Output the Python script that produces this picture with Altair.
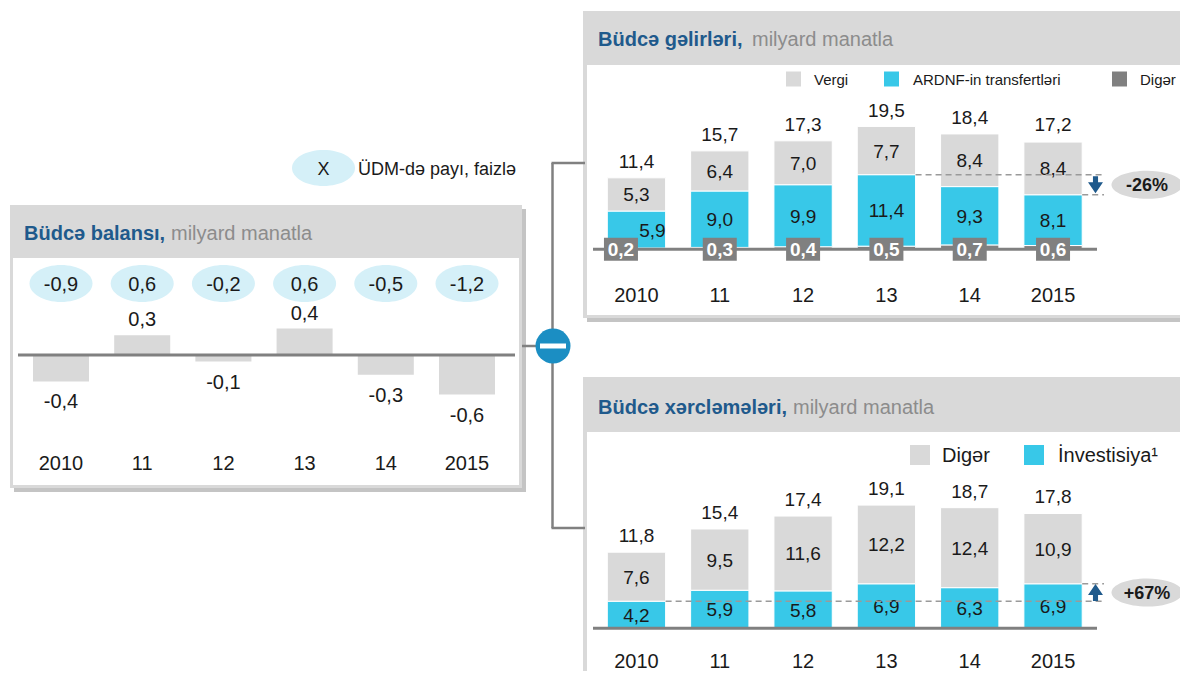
import altair as alt
import pandas as pd

# ---------------- data ----------------
YEARS = ["2010", "11", "12", "13", "14", "2015"]

BALANCE = [-0.4, 0.3, -0.1, 0.4, -0.3, -0.6]
BALANCE_GDP = [-0.9, 0.6, -0.2, 0.6, -0.5, -1.2]

REV_TAX = [5.3, 6.4, 7.0, 7.7, 8.4, 8.4]
REV_SOFAZ = [5.9, 9.0, 9.9, 11.4, 9.3, 8.1]
REV_OTHER = [0.2, 0.3, 0.4, 0.5, 0.7, 0.6]
REV_TOTAL = [11.4, 15.7, 17.3, 19.5, 18.4, 17.2]

EXP_OTHER = [7.6, 9.5, 11.6, 12.2, 12.4, 10.9]
EXP_INVEST = [4.2, 5.9, 5.8, 6.9, 6.3, 6.9]
EXP_TOTAL = [11.8, 15.4, 17.4, 19.1, 18.7, 17.8]

REV_CHANGE = "-26%"
EXP_CHANGE = "+67%"

# ---------------- style ----------------
FONT = "Liberation Sans"
TXT = "#1a1a1a"
GRAY_LIGHT = "#d9d9d9"
CYAN = "#38c8e8"
GRAY_DARK = "#808080"
TITLE_BLUE = "#1f5a8c"
TITLE_GRAY = "#8c8c8c"
ELL_BLUE = "#d5f0f8"
CIRCLE_BLUE = "#1b8ec3"
ARROW_BLUE = "#1f5a8c"
LINE = "#808080"
SHADOW = "#c4c4c4"
DASH = "#9a9a9a"

O = 8
RIGHT = 1180


def px(v):
    return v - O


ONE = alt.Data(values=[{"one": 1}])
LBL = "(datum.v < 0 ? '-' : '') + replace(format(abs(datum.v), '.1f'), '.', ',')"


def ellipse(k):
    c = 0.5523
    return (f"M-1,0C-1,{-c*k:.3f},{-c:.3f},{-k:.3f},0,{-k:.3f}"
            f"C{c:.3f},{-k:.3f},1,{-c*k:.3f},1,0"
            f"C1,{c*k:.3f},{c:.3f},{k:.3f},0,{k:.3f}"
            f"C{-c:.3f},{k:.3f},-1,{c*k:.3f},-1,0Z")


ARROW_DOWN = "M-0.3,-1L0.3,-1L0.3,-0.3L0.88,-0.3L0,1L-0.88,-0.3L-0.3,-0.3Z"
ARROW_UP = "M-0.3,1L0.3,1L0.3,0.3L0.88,0.3L0,-1L-0.88,0.3L-0.3,0.3Z"
BOX = "M-1,-0.676L1,-0.676L1,0.676L-1,0.676Z"


def rect(x0, x1, y0, y1, color):
    return alt.Chart(ONE).mark_rect(color=color, strokeWidth=0).encode(
        x=alt.value(px(x0)), x2=alt.value(px(x1)),
        y=alt.value(px(y0)), y2=alt.value(px(y1)))


def hline(x0, x1, y, color=LINE, w=2.5):
    return alt.Chart(ONE).mark_rule(color=color, strokeWidth=w).encode(
        x=alt.value(px(x0)), x2=alt.value(px(x1)), y=alt.value(px(y)))


def vline(x, y0, y1, color=LINE, w=2.5):
    return alt.Chart(ONE).mark_rule(color=color, strokeWidth=w).encode(
        x=alt.value(px(x)), y=alt.value(px(y0)), y2=alt.value(px(y1)))


def label(text, x, y, size, color=TXT, weight="normal", align="left"):
    return alt.Chart(ONE).mark_text(
        text=text, font=FONT, fontSize=size, fontWeight=weight, color=color,
        align=align, baseline="alphabetic").encode(
        x=alt.value(px(x)), y=alt.value(px(y)))


def swatch(x, y, s, color):
    return alt.Chart(ONE).mark_point(shape="square", size=s * s, filled=True,
                                     color=color, opacity=1, strokeWidth=0).encode(
        x=alt.value(px(x)), y=alt.value(px(y)))


# ---------------- decorations ----------------
deco = [
    # left panel
    rect(14, 526, 209, 492, SHADOW),
    rect(10, 522, 205, 488, GRAY_LIGHT),
    rect(13, 519, 258, 485, "white"),
    # top-right panel
    rect(587, RIGHT, 15, 322, SHADOW),
    rect(583, RIGHT, 11, 318, GRAY_LIGHT),
    rect(587, RIGHT, 65, 315, "white"),
    # bottom-right panel
    rect(587, RIGHT, 381, 679, SHADOW),
    rect(583, RIGHT, 377, 679, GRAY_LIGHT),
    rect(587, RIGHT, 432, 679, "white"),
    # titles
    label("Büdcə balansı,", 24, 239.5, 20, TITLE_BLUE, "bold"),
    label("milyard manatla", 171, 239.5, 20, TITLE_GRAY),
    label("Büdcə gəlirləri,", 598, 45.5, 20, TITLE_BLUE, "bold"),
    label("milyard manatla", 752, 45.5, 20, TITLE_GRAY),
    label("Büdcə xərcləmələri,", 598, 413.5, 20, TITLE_BLUE, "bold"),
    label("milyard manatla", 793, 413.5, 20, TITLE_GRAY),
    # GDP-share key
    alt.Chart(ONE).mark_point(shape=ellipse(36 / 63), size=63 * 63, filled=True,
                              color=ELL_BLUE, opacity=1, strokeWidth=0).encode(
        x=alt.value(px(323.5)), y=alt.value(px(168))),
    label("X", 323.5, 174.5, 18, align="center"),
    label("ÜDM-də payı, faizlə", 358, 174.5, 18),
    # revenue legend
    swatch(793.5, 79, 15, GRAY_LIGHT),
    label("Vergi", 814, 84.5, 15),
    swatch(891.5, 79, 15, CYAN),
    label("ARDNF-in transfertləri", 913, 84.5, 15),
    swatch(1119.5, 79, 15, GRAY_DARK),
    label("Digər", 1140, 84.5, 15),
    # expenditure legend
    swatch(920, 455, 20, GRAY_LIGHT),
    label("Digər", 942, 462, 20),
    swatch(1034, 455, 20, CYAN),
    label("İnvestisiya¹", 1058, 462, 20),
    # connectors
    vline(552.5, 163, 528),
    hline(551.5, 585, 163),
    hline(551.5, 585, 528),
    hline(522, 553, 346),
    alt.Chart(ONE).mark_point(shape="circle", size=35 * 35, filled=True,
                              color=CIRCLE_BLUE, opacity=1, strokeWidth=0).encode(
        x=alt.value(px(553)), y=alt.value(px(346))),
    rect(540, 566, 343.5, 348.5, "white"),
]

# ---------------- left panel: balance ----------------
xL = alt.Scale(domain=YEARS, range=[px(20.4), px(507.6)], paddingInner=0.31, paddingOuter=0.155)
yL = alt.Scale(domain=[-1, 1], range=[px(355 + 66), px(355 - 66)])
XL = alt.X("year:N", scale=xL, axis=None, sort=None)
bal = pd.DataFrame({"year": YEARS, "v": BALANCE, "g": BALANCE_GDP})
bL = alt.Chart(bal)
txt = dict(font=FONT, color=TXT, baseline="alphabetic")

left = alt.layer(
    bL.mark_bar(color=GRAY_LIGHT).encode(x=XL, y=alt.Y("v:Q", scale=yL, axis=None)),
    alt.Chart(ONE).mark_rule(color=LINE, strokeWidth=3).encode(
        x=alt.value(px(18)), x2=alt.value(px(515)), y=alt.YDatum(0, axis=None)),
    bL.transform_filter("datum.v >= 0").transform_calculate(lbl=LBL).mark_text(
        fontSize=20, dy=-9, **txt).encode(x=XL, y=alt.Y("v:Q", axis=None), text="lbl:N"),
    bL.transform_filter("datum.v < 0").transform_calculate(lbl=LBL).mark_text(
        fontSize=20, dy=27, **txt).encode(x=XL, y=alt.Y("v:Q", axis=None), text="lbl:N"),
    bL.mark_point(shape=ellipse(37 / 63), size=63 * 63, filled=True, color=ELL_BLUE,
                  opacity=1, strokeWidth=0).encode(x=XL, y=alt.value(px(283.5))),
    bL.transform_calculate(lbl=LBL.replace("datum.v", "datum.g")).mark_text(
        fontSize=20, **txt).encode(x=XL, y=alt.value(px(291)), text="lbl:N"),
    bL.mark_text(fontSize=20, **txt).encode(x=XL, y=alt.value(px(470)), text="year:N"),
)


# ---------------- stacked panels ----------------
def stacked(rows, comps, colors, labelled, totals, base_y, ppu, years_y, dashes, arrow,
            change, special_2010):
    xs = alt.Scale(domain=YEARS, range=[px(594.8), px(1094.7)],
                   paddingInner=0.30, paddingOuter=0.15)
    ys = alt.Scale(domain=[0, 20], range=[px(base_y), px(base_y - 20 * ppu)])
    X = alt.X("year:N", scale=xs, axis=None, sort=None)
    df = pd.DataFrame(rows)
    S = alt.Chart(df).transform_stack(
        stack="v", groupby=["year"], as_=["v0", "v1"],
        sort=[alt.SortField("k", order="ascending")]).transform_calculate(
        mid="(datum.v0 + datum.v1) / 2", lbl=LBL)
    tot = alt.Chart(pd.DataFrame({"year": YEARS, "v": totals})).transform_calculate(lbl=LBL)
    dash_df = alt.Chart(pd.DataFrame(dashes))
    arr = alt.Chart(pd.DataFrame([arrow]))
    layers = [
        S.mark_bar(stroke="white", strokeWidth=1).encode(
            x=X, y=alt.Y("v1:Q", scale=ys, axis=None), y2="v0:Q",
            color=alt.Color("comp:N", scale=alt.Scale(domain=comps, range=colors), legend=None)),
        alt.Chart(ONE).mark_rule(color=LINE, strokeWidth=3).encode(
            x=alt.value(px(593)), x2=alt.value(px(1097)), y=alt.YDatum(0, axis=None)),
        tot.mark_text(fontSize=19, dy=-10, **txt).encode(
            x=X, y=alt.Y("v:Q", axis=None), text="lbl:N"),
    ]
    seg_filter = "indexof(%s, datum.comp) >= 0" % str(labelled)
    if special_2010:
        seg_filter += " && !(datum.comp == 'sofaz' && datum.year == '2010')"
    layers.append(S.transform_filter(seg_filter).mark_text(fontSize=19, dy=7, **txt).encode(
        x=X, y=alt.Y("mid:Q", axis=None), text="lbl:N"))
    if special_2010:
        layers += [
            S.transform_filter("datum.comp == 'sofaz' && datum.year == '2010'").mark_text(
                fontSize=19, dy=7, dx=16, **txt).encode(
                x=X, y=alt.Y("mid:Q", axis=None), text="lbl:N"),
            S.transform_filter("datum.comp == 'other' && datum.year != '2010'").mark_point(
                shape=BOX, size=34 * 34, filled=True, color=GRAY_DARK, opacity=1,
                strokeWidth=0).encode(x=X, y=alt.YDatum(0, axis=None)),
            S.transform_filter("datum.comp == 'other' && datum.year == '2010'").mark_point(
                shape=BOX, size=34 * 34, filled=True, color=GRAY_DARK, opacity=1,
                strokeWidth=0, xOffset=-15.5).encode(x=X, y=alt.YDatum(0, axis=None)),
            S.transform_filter("datum.comp == 'other' && datum.year != '2010'").mark_text(
                fontSize=19, fontWeight="bold", dy=7, font=FONT, color="white",
                baseline="alphabetic").encode(x=X, y=alt.YDatum(0, axis=None), text="lbl:N"),
            S.transform_filter("datum.comp == 'other' && datum.year == '2010'").mark_text(
                fontSize=19, fontWeight="bold", dy=7, dx=-15.5, font=FONT, color="white",
                baseline="alphabetic").encode(x=X, y=alt.YDatum(0, axis=None), text="lbl:N"),
        ]
    layers += [
        dash_df.mark_rule(color=DASH, strokeWidth=1.5, strokeDash=[6, 4]).encode(
            x=alt.X("year:N", scale=xs, axis=None, sort=None, bandPosition=1),
            x2=alt.value(px(1104)), y=alt.Y("lvl:Q", axis=None)),
        arr.mark_point(shape=ARROW_DOWN if arrow["down"] else ARROW_UP, size=17 * 17,
                       filled=True, color=ARROW_BLUE, opacity=1, strokeWidth=0).encode(
            x=alt.value(px(1095.5)), y=alt.Y("mid:Q", axis=None)),
        arr.mark_point(shape=ellipse(28 / 71), size=71 * 71, filled=True, color=GRAY_LIGHT,
                       opacity=1, strokeWidth=0).encode(
            x=alt.value(px(1147)), y=alt.Y("mid:Q", axis=None)),
        arr.mark_text(text=change, fontSize=18, fontWeight="bold", font=FONT, color=TXT,
                      baseline="alphabetic", dy=6.5).encode(
            x=alt.value(px(1147)), y=alt.Y("mid:Q", axis=None)),
        alt.Chart(pd.DataFrame({"year": YEARS})).mark_text(fontSize=20, **txt).encode(
            x=X, y=alt.value(px(years_y)), text="year:N"),
    ]
    return alt.layer(*layers)


rev_rows = []
for i, yr in enumerate(YEARS):
    rev_rows += [{"year": yr, "comp": "other", "k": 0, "v": REV_OTHER[i]},
                 {"year": yr, "comp": "sofaz", "k": 1, "v": REV_SOFAZ[i]},
                 {"year": yr, "comp": "tax", "k": 2, "v": REV_TAX[i]}]
rev_hi = REV_OTHER[3] + REV_SOFAZ[3]
rev_lo = REV_OTHER[5] + REV_SOFAZ[5]
top = stacked(
    rev_rows, ["other", "sofaz", "tax"], [GRAY_DARK, CYAN, GRAY_LIGHT], ["sofaz", "tax"],
    REV_TOTAL, 249.3, 6.27, 302,
    [{"year": "13", "lvl": rev_hi}, {"year": "2015", "lvl": rev_lo}],
    {"mid": (rev_hi + rev_lo) / 2, "down": True}, REV_CHANGE, True)

exp_rows = []
for i, yr in enumerate(YEARS):
    exp_rows += [{"year": yr, "comp": "invest", "k": 0, "v": EXP_INVEST[i]},
                 {"year": yr, "comp": "other", "k": 1, "v": EXP_OTHER[i]}]
bottom = stacked(
    exp_rows, ["invest", "other"], [CYAN, GRAY_LIGHT], ["invest", "other"],
    EXP_TOTAL, 628.3, 6.45, 668,
    [{"year": "2010", "lvl": EXP_INVEST[0]}, {"year": "2015", "lvl": EXP_INVEST[5]}],
    {"mid": (EXP_INVEST[0] + EXP_INVEST[5]) / 2, "down": False}, EXP_CHANGE, False)

chart = alt.layer(*deco, left, top, bottom).resolve_scale(
    x="independent", y="independent", color="independent"
).properties(
    width=px(RIGHT), height=663, padding=0, background="white",
    autosize=alt.AutoSizeParams(type="none"),
).configure_view(strokeWidth=0)

chart.save("out.html", embed_options={"renderer": "svg", "actions": False})
